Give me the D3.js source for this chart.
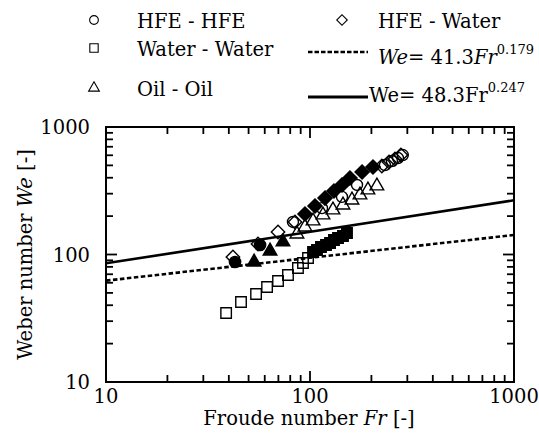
<!DOCTYPE html>
<html>
<head>
<meta charset="utf-8">
<script src="https://cdn.jsdelivr.net/npm/d3@7"></script>
<style>
  body { margin: 0; background: #fff; }
  svg text { font-family: "DejaVu Serif", serif; fill: #000; }
</style>
</head>
<body>
<div id="chart"></div>
<script>
// HFE - HFE (circles)
const hfeOpen = [
  [82.5, 180], [114.5, 231], [143.5, 283], [170, 351],
  [233, 503], [252, 541], [270, 571], [285, 603]
];
const hfeFilled = [[42.9, 87.3], [56.9, 118.7]];

// HFE - Water (diamonds)
const hwOpen = [
  [41.9, 95.5], [55.6, 120.8], [69.7, 150.1], [84.4, 179.8],
  [225, 494], [244, 531], [261, 561], [279, 603]
];
const hwFilled = [
  [94.5, 208], [105.8, 240], [118.5, 277], [131.1, 315],
  [143.5, 351], [157, 398], [180, 444], [203.6, 486]
];

// Water - Water (squares)
const wwOpen = [
  [38.8, 34.8], [45.9, 42.4], [54.4, 49.0], [61.6, 55.6], [69.7, 62.0],
  [78.0, 69.1], [87.3, 78.4], [92.4, 85.8], [97.8, 93.9]
];
const wwFilled = [
  [103.5, 104.6], [108.2, 108.4], [113.2, 114.5], [119.8, 118.7], [125.4, 123.1],
  [131.1, 130.0], [137.2, 134.7], [145.1, 139.7], [151.8, 147.4]
];

// Oil - Oil (triangles)
const ooOpen = [
  [86.3, 144.8], [94.5, 164.3], [103.5, 183.2], [115.8, 204.2], [129.6, 223.4],
  [145.1, 244.4], [160.6, 267.4], [175.8, 293.0], [192.3, 320.6], [212.8, 344.6]
];
const ooFilled = [[53.2, 87.3], [63.7, 106.5], [73.7, 125.4]];

// correlations We = a * Fr^b
const fitDotted = {a: 41.3, b: 0.179};
const fitSolid = {a: 48.3, b: 0.247};

const xTicks = [10, 100, 1000];
const yTicks = [10, 100, 1000];

const width = 539, height = 440;
const margin = {top: 127, right: 25, bottom: 58, left: 106};
const fs = 19.5;

const svg = d3.select("#chart").append("svg")
  .attr("width", width)
  .attr("height", height)
  .attr("font-family", "DejaVu Serif");

const x = d3.scaleLog().domain([10, 1000]).range([margin.left, width - margin.right]);
const y = d3.scaleLog().domain([10, 1000]).range([height - margin.bottom, margin.top]);

// minor ticks 2..9 in every decade
let minorX = [], minorY = [];
[10, 100].forEach(d => {
  for (let k = 2; k <= 9; k++) { minorX.push(d * k); minorY.push(d * k); }
});

const x0 = x.range()[0], x1 = x.range()[1];
const y0 = y.range()[0], y1 = y.range()[1];

const axisG = svg.append("g").attr("stroke", "#000").attr("stroke-width", 1.8);

// inward ticks on all four sides
xTicks.concat(minorX).forEach(v => {
  let len = xTicks.includes(v) ? 11 : 7;
  axisG.append("line").attr("x1", x(v)).attr("x2", x(v)).attr("y1", y0).attr("y2", y0 - len);
  axisG.append("line").attr("x1", x(v)).attr("x2", x(v)).attr("y1", y1).attr("y2", y1 + len);
});
yTicks.concat(minorY).forEach(v => {
  let len = yTicks.includes(v) ? 11 : 7;
  axisG.append("line").attr("x1", x0).attr("x2", x0 + len).attr("y1", y(v)).attr("y2", y(v));
  axisG.append("line").attr("x1", x1).attr("x2", x1 - len).attr("y1", y(v)).attr("y2", y(v));
});

// fit lines
const frRange = [10, 1000];
const line = d3.line().x(d => x(d[0])).y(d => y(d[1]));
svg.append("path")
  .attr("d", line(frRange.map(f => [f, fitDotted.a * Math.pow(f, fitDotted.b)])))
  .attr("fill", "none").attr("stroke", "#000").attr("stroke-width", 2.6)
  .attr("stroke-dasharray", "4.5,2.5");
svg.append("path")
  .attr("d", line(frRange.map(f => [f, fitSolid.a * Math.pow(f, fitSolid.b)])))
  .attr("fill", "none").attr("stroke", "#000").attr("stroke-width", 2.6);

// markers
function drawPoints(data, type, size, filled, rotate) {
  svg.append("g").selectAll("path")
    .data(data)
    .join("path")
    .attr("d", d3.symbol().type(type).size(size))
    .attr("transform", d => "translate(" + x(d[0]) + "," + y(d[1]) + ")" + (rotate ? " rotate(45)" : ""))
    .attr("fill", filled ? "#000" : "none")
    .attr("stroke", "#000")
    .attr("stroke-width", 1.4);
}

drawPoints(wwOpen, d3.symbolSquare, 110, false);
drawPoints(wwFilled, d3.symbolSquare, 110, true);
drawPoints(ooOpen, d3.symbolTriangle, 80, false);
drawPoints(ooFilled, d3.symbolTriangle, 80, true);
drawPoints(hwOpen, d3.symbolSquare, 90, false, true);
drawPoints(hfeOpen, d3.symbolCircle, 95, false);
drawPoints(hwFilled, d3.symbolSquare, 100, true, true);
drawPoints(hfeFilled, d3.symbolCircle, 100, true);

// frame
svg.append("rect")
  .attr("x", x0).attr("y", y1)
  .attr("width", x1 - x0).attr("height", y0 - y1)
  .attr("fill", "none").attr("stroke", "#000").attr("stroke-width", 2);

// tick labels
svg.append("g").selectAll("text").data(xTicks).join("text")
  .attr("x", d => x(d)).attr("y", y0 + 21)
  .attr("text-anchor", "middle").attr("font-size", fs)
  .text(d => d);
svg.append("g").selectAll("text").data(yTicks).join("text")
  .attr("x", x0 - 16).attr("y", d => y(d) + 7)
  .attr("text-anchor", "end").attr("font-size", fs)
  .text(d => d);

// axis titles
const xt = svg.append("text")
  .attr("x", 309).attr("y", 425)
  .attr("text-anchor", "middle").attr("font-size", fs);
xt.append("tspan").text("Froude number ");
xt.append("tspan").attr("font-style", "italic").text("Fr");
xt.append("tspan").text(" [-]");

const yt = svg.append("text")
  .attr("transform", "translate(32," + ((y0 + y1) / 2) + ") rotate(-90)")
  .attr("text-anchor", "middle").attr("font-size", fs);
yt.append("tspan").text("Weber number ");
yt.append("tspan").attr("font-style", "italic").text("We");
yt.append("tspan").text(" [-]");

// legend
const leg = svg.append("g");
const legRows = [
  {sym: d3.symbolCircle, size: 60, rot: false, cx: 94, cy: 20, tx: 137, ty: 28, label: "HFE - HFE"},
  {sym: d3.symbolSquare, size: 70, rot: false, cx: 94, cy: 48, tx: 137, ty: 56, label: "Water - Water"},
  {sym: d3.symbolTriangle, size: 50, rot: false, cx: 94, cy: 88, tx: 137, ty: 96, label: "Oil - Oil"},
  {sym: d3.symbolSquare, size: 55, rot: true, cx: 342, cy: 20, tx: 378, ty: 28, label: "HFE - Water"}
];
legRows.forEach(r => {
  leg.append("path")
    .attr("d", d3.symbol().type(r.sym).size(r.size))
    .attr("transform", "translate(" + r.cx + "," + r.cy + ")" + (r.rot ? " rotate(45)" : ""))
    .attr("fill", "none").attr("stroke", "#000").attr("stroke-width", 1.1);
  leg.append("text").attr("x", r.tx).attr("y", r.ty).attr("font-size", fs).text(r.label);
});

leg.append("line").attr("x1", 308).attr("x2", 368).attr("y1", 52).attr("y2", 52)
  .attr("stroke", "#000").attr("stroke-width", 2.6).attr("stroke-dasharray", "4.5,2");
leg.append("line").attr("x1", 308).attr("x2", 368).attr("y1", 97).attr("y2", 97)
  .attr("stroke", "#000").attr("stroke-width", 2.8);

const t1 = leg.append("text").attr("x", 378).attr("y", 64).attr("font-size", fs);
t1.append("tspan").attr("font-style", "italic").text("We");
t1.append("tspan").text("= " + fitDotted.a);
t1.append("tspan").attr("font-style", "italic").text("Fr");
t1.append("tspan").attr("font-size", 13).attr("dy", -10).text(fitDotted.b);

const t2 = leg.append("text").attr("x", 369).attr("y", 102).attr("font-size", fs);
t2.append("tspan").text("We= " + fitSolid.a + "Fr");
t2.append("tspan").attr("font-size", 13).attr("dy", -10).text(fitSolid.b);
</script>
</body>
</html>
